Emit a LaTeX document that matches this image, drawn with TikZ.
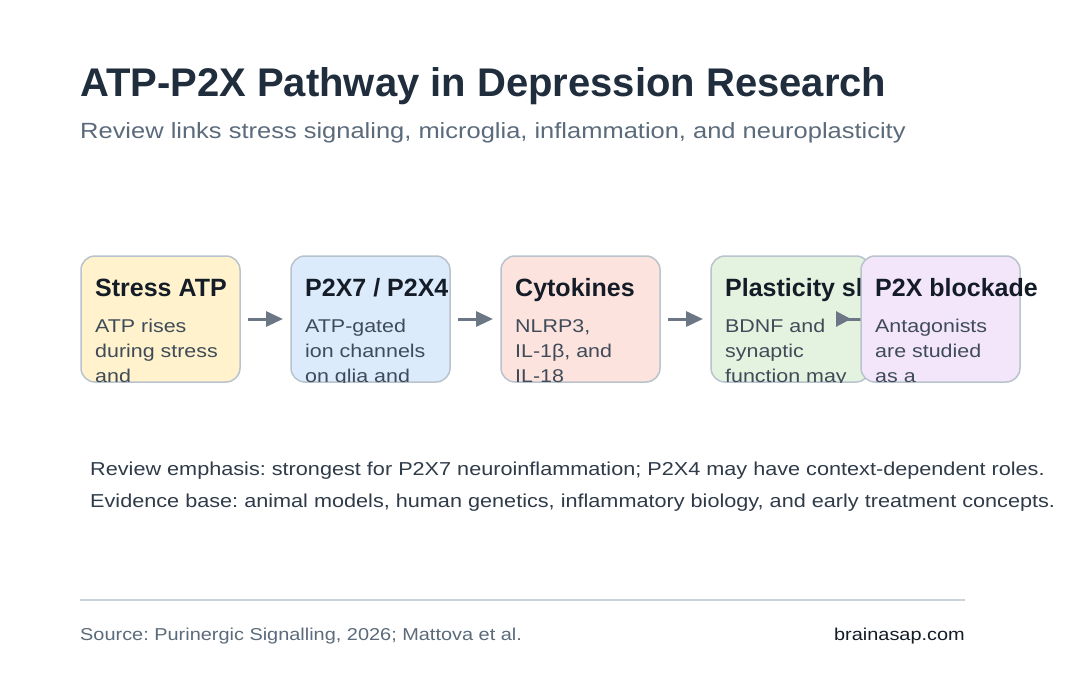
\documentclass[tikz,border=0pt]{standalone}
\usepackage{fontspec}
\setmainfont{Liberation Sans}
\newfontfamily\widesans[FakeStretch=1.158]{Liberation Sans}
\usetikzlibrary{positioning,arrows.meta,calc}
\frenchspacing

\definecolor{titletxt}{HTML}{1F2D3D}
\definecolor{subtxt}{HTML}{5B6B7B}
\definecolor{headtxt}{HTML}{141C27}
\definecolor{bodytxt}{HTML}{3F4B59}
\definecolor{notetxt}{HTML}{2F3B48}
\definecolor{boxline}{HTML}{B9C3CD}
\definecolor{arrowgray}{HTML}{6B7784}
\definecolor{ruleline}{HTML}{C8D2DB}
\definecolor{fillatp}{HTML}{FFF2CC}
\definecolor{fillrec}{HTML}{DCEBFC}
\definecolor{fillcyt}{HTML}{FDE3DE}
\definecolor{fillpla}{HTML}{E4F3DF}
\definecolor{fillblk}{HTML}{F3E6FB}

\begin{document}
\begin{tikzpicture}[
	x=1pt, y=-1pt,
	stage/.style={ draw=boxline, line width=1.5pt, rounded corners=14pt, minimum width=159pt, minimum height=126pt, inner sep=0pt, outer sep=0pt },
	head/.style={ anchor=base west, inner sep=0pt, text=headtxt, font=\fontsize{25}{29}\selectfont\bfseries },
	body/.style={ anchor=base west, inner sep=0pt, align=left, text=bodytxt, font=\widesans\fontsize{18.5}{25}\selectfont },
	note/.style={ anchor=base west, inner sep=0pt, text=notetxt, font=\widesans\fontsize{18.7}{22}\selectfont },
	flow/.style={ draw=arrowgray, line width=3pt, -{Triangle[length=17pt,width=15pt]}, shorten <=8pt, shorten >=8pt }
]
\useasboundingbox (0,0) rectangle (1080,680);
\fill[white] (0,0) rectangle (1080,680);

\node (title) at (80,96) [anchor=base west, inner sep=0pt, text=titletxt, font=\fontsize{40}{48}\selectfont\bfseries] {ATP-P2X Pathway in Depression Research};
\node (subtitle) at (80,138) [anchor=base west, inner sep=0pt, text=subtxt, font=\widesans\fontsize{22}{27}\selectfont] {Review links stress signaling, microglia, inflammation, and neuroplasticity};

\node at (160.5,319) (box1) [stage, fill=fillatp] {};
\node at ($(box1.west)+(14,-23)$) (head1) [head] {Stress ATP};
\begin{scope}
\clip[rounded corners=14pt] (box1.south west) rectangle (box1.north east);
\node at ($(box1.west)+(14,63)$) (body1) [body] {ATP rises\\during stress\\and};
\end{scope}

\node (box2) [stage, fill=fillrec, right=51pt of box1] {};
\node at ($(box2.west)+(14,-23)$) (head2) [head] {P2X7 / P2X4};
\begin{scope}
\clip[rounded corners=14pt] (box2.south west) rectangle (box2.north east);
\node at ($(box2.west)+(14,63)$) (body2) [body] {ATP-gated\\ion channels\\on glia and};
\end{scope}

\node (box3) [stage, fill=fillcyt, right=51pt of box2] {};
\node at ($(box3.west)+(14,-23)$) (head3) [head] {Cytokines};
\begin{scope}
\clip[rounded corners=14pt] (box3.south west) rectangle (box3.north east);
\node at ($(box3.west)+(14,63)$) (body3) [body] {NLRP3,\\IL-1β, and\\IL-18};
\end{scope}

\node (box4) [stage, fill=fillpla, right=51pt of box3] {};
\node at ($(box4.west)+(14,-23)$) (head4) [head] {Plasticity sl};
\begin{scope}
\clip[rounded corners=14pt] (box4.south west) rectangle (box4.north east);
\node at ($(box4.west)+(14,63)$) (body4) [body] {BDNF and\\synaptic\\function may};
\end{scope}

\draw[flow] (box1) -- (box2);
\draw[flow] (box2) -- (box3);
\draw[flow] (box3) -- (box4);
\coordinate (stub) at (836,319);
\draw[flow, -{Triangle[reversed,length=15pt,width=15pt]}, shorten <=0pt, shorten >=0pt] (box4.east) -- (stub);

\node (box5) [stage, fill=fillblk, right=-9pt of box4] {};
\node at ($(box5.west)+(14,-23)$) (head5) [head] {P2X blockade};
\begin{scope}
\clip[rounded corners=14pt] (box5.south west) rectangle (box5.north east);
\node at ($(box5.west)+(14,63)$) (body5) [body] {Antagonists\\are studied\\as a};
\end{scope}

\node (note1) at (90,475) [note] {Review emphasis: strongest for P2X7 neuroinflammation; P2X4 may have context-dependent roles.};
\node (note2) at (90,507) [note] {Evidence base: animal models, human genetics, inflammatory biology, and early treatment concepts.};

\draw[ruleline, line width=1.5pt] (80,600) -- (965,600);
\node (source) at (80,640) [anchor=base west, inner sep=0pt, text=subtxt, font=\widesans\fontsize{17.2}{20}\selectfont] {Source: Purinergic Signalling, 2026; Mattova et al.};
\node (site) at (965,640) [anchor=base east, inner sep=0pt, text=headtxt, font=\widesans\fontsize{17.2}{20}\selectfont] {brainasap.com};

\end{tikzpicture}
\end{document}
